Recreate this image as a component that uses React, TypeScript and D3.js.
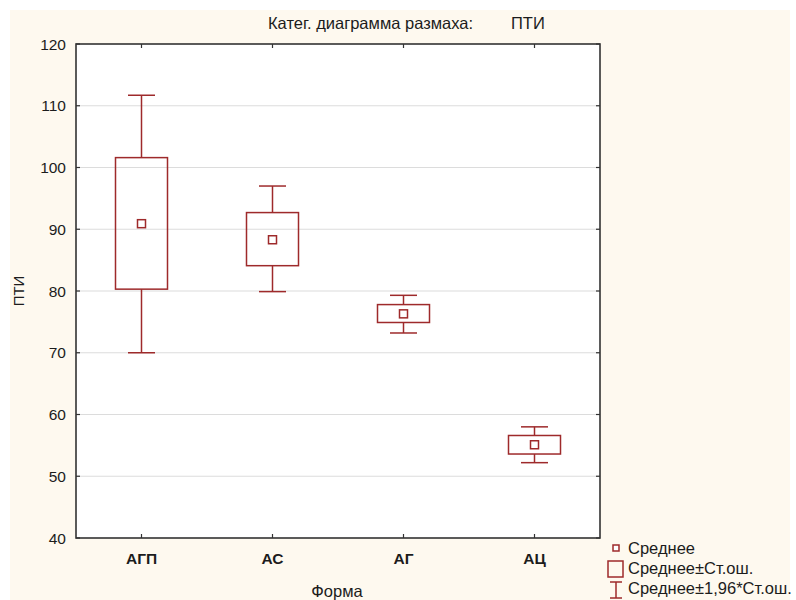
import React from 'react';
import * as d3 from 'd3';

const categories = ['АГП', 'АС', 'АГ', 'АЦ'];
const means = [90.9, 88.3, 76.3, 55.1];
const seLow = [80.3, 84.1, 74.9, 53.6];
const seHigh = [101.6, 92.7, 77.8, 56.6];
const ciLow = [70.0, 79.9, 73.2, 52.2];
const ciHigh = [111.7, 97.0, 79.3, 58.0];
const yTicks = [40, 50, 60, 70, 80, 90, 100, 110, 120];
const legendLabels = ['Среднее', 'Среднее±Ст.ош.', 'Среднее±1,96*Ст.ош.'];

const W = 796;
const H = 600;
const plot = { left: 76, top: 44, right: 600, bottom: 538 };
const red = '#9e2a2b';
const ink = '#1c1c1c';
const font = '"Liberation Sans", Arial, sans-serif';

export default function App() {
  const x = d3.scaleBand<string>().domain(categories).range([plot.left, plot.right]).padding(0);
  const y = d3.scaleLinear().domain([40, 120]).range([plot.bottom, plot.top]);
  const boxW = 52;
  const capW = 27;

  return (
    <svg width={W} height={H} style={{ position: 'absolute', left: 0, top: 0 }} fontFamily={font}>
      <rect x={0} y={0} width={W} height={H} fill="white" />
      <rect x={10} y={10} width={780} height={590} fill="#fef9ef" />
      <rect x={plot.left} y={plot.top} width={plot.right - plot.left} height={plot.bottom - plot.top} fill="white" />

      {/* gridlines */}
      {yTicks.slice(1, -1).map(t => (
        <line key={t} x1={plot.left} x2={plot.right} y1={y(t)} y2={y(t)} stroke="#dcdcdc" strokeWidth={1.2} />
      ))}

      {/* boxes */}
      {categories.map((c, i) => {
        const cx = x(c)! + x.bandwidth() / 2;
        return (
          <g key={c} stroke={red} strokeWidth={1.5} fill="none">
            <line x1={cx} x2={cx} y1={y(ciHigh[i])} y2={y(seHigh[i])} />
            <line x1={cx} x2={cx} y1={y(seLow[i])} y2={y(ciLow[i])} />
            <line x1={cx - capW / 2} x2={cx + capW / 2} y1={y(ciHigh[i])} y2={y(ciHigh[i])} />
            <line x1={cx - capW / 2} x2={cx + capW / 2} y1={y(ciLow[i])} y2={y(ciLow[i])} />
            <rect x={cx - boxW / 2} y={y(seHigh[i])} width={boxW} height={y(seLow[i]) - y(seHigh[i])} />
            <rect x={cx - 4} y={y(means[i]) - 4} width={8} height={8} fill="white" />
          </g>
        );
      })}

      {/* frame */}
      <rect x={plot.left} y={plot.top} width={plot.right - plot.left} height={plot.bottom - plot.top} fill="none" stroke="#333" strokeWidth={1.6} />

      {/* y ticks */}
      {yTicks.map(t => (
        <g key={t}>
          <line x1={plot.left} x2={plot.left + 4} y1={y(t)} y2={y(t)} stroke="#333" strokeWidth={1.2} />
          <line x1={plot.right - 4} x2={plot.right} y1={y(t)} y2={y(t)} stroke="#333" strokeWidth={1.2} />
          <text x={plot.left - 10} y={y(t)} dy="0.36em" textAnchor="end" fontSize={15.5} fill={ink}>{t}</text>
        </g>
      ))}

      {/* x ticks */}
      {categories.map(c => {
        const cx = x(c)! + x.bandwidth() / 2;
        return (
          <g key={c}>
            <line x1={cx} x2={cx} y1={plot.bottom} y2={plot.bottom - 4} stroke="#333" strokeWidth={1.2} />
            <line x1={cx} x2={cx} y1={plot.top} y2={plot.top + 4} stroke="#333" strokeWidth={1.2} />
            <text x={cx} y={564} textAnchor="middle" fontSize={15.5} fontWeight="bold" fill={ink}>{c}</text>
          </g>
        );
      })}

      {/* titles */}
      <text x={268} y={29} fontSize={16.5} fill={ink}>Катег. диаграмма размаха:</text>
      <text x={511} y={29} fontSize={16.5} fill={ink}>ПТИ</text>
      <text x={337} y={597} textAnchor="middle" fontSize={16.5} fill={ink}>Форма</text>
      <text transform={`translate(24,${(plot.top + plot.bottom) / 2}) rotate(-90)`} textAnchor="middle" fontSize={15} fill={ink}>ПТИ</text>

      {/* legend */}
      <g stroke={red} strokeWidth={1.5} fill="none">
        <rect x={613} y={545} width={6} height={6} fill="white" />
        <rect x={608} y={561} width={15} height={16} />
        <line x1={616} x2={616} y1={582} y2={598} />
        <line x1={610} x2={622} y1={582} y2={582} />
        <line x1={610} x2={622} y1={598} y2={598} />
      </g>
      {legendLabels.map((l, i) => (
        <text key={l} x={628} y={554 + i * 20} fontSize={16.5} fill={ink}>{l}</text>
      ))}
    </svg>
  );
}
